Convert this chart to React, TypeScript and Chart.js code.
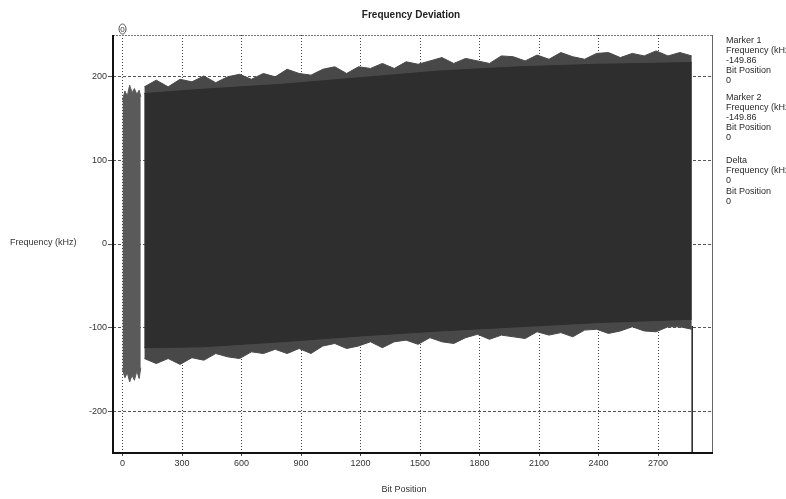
import { useEffect, useRef } from "react";
import { Chart, registerables } from "chart.js";
Chart.register(...registerables);

const FONT = "'Liberation Sans', Arial, sans-serif";

// Axis ticks
const xTickValues = [0, 300, 600, 900, 1200, 1500, 1800, 2100, 2400, 2700];
const yTickValues = [-200, -100, 0, 100, 200];

// Early, sparser part of the signal (bit 0 .. ~92)
const earlyBits = [0, 12, 24, 36, 48, 60, 72, 84, 92];
const earlyUpper = [172, 183, 177, 190, 181, 186, 179, 184, 176];
const earlyLower = [-150, -160, -154, -165, -157, -163, -152, -161, -148];

// Outer (spiky) envelope of the dense signal
const mainBits = [
  110, 170, 230, 290, 350, 410, 470, 530, 590, 650, 710, 770, 830, 890, 950, 1010,
  1070, 1130, 1190, 1250, 1310, 1370, 1430, 1490, 1550, 1610, 1670, 1730, 1790, 1850,
  1910, 1970, 2030, 2090, 2150, 2210, 2270, 2330, 2390, 2450, 2510, 2570, 2630, 2690,
  2750, 2810, 2870,
];
const mainUpper = [
  188, 196, 188, 197, 194, 201, 193, 200, 203, 197, 204, 200, 209, 204, 202, 209,
  212, 204, 212, 210, 216, 210, 218, 215, 219, 223, 216, 222, 219, 216, 225, 224,
  219, 226, 221, 229, 224, 221, 228, 229, 223, 228, 225, 231, 225, 229, 225,
];
const mainLower = [
  -137, -143, -137, -144, -136, -139, -131, -135, -137, -129, -131, -126, -131, -125, -131, -122,
  -119, -125, -122, -117, -124, -117, -115, -120, -112, -117, -119, -112, -108, -114, -109, -111,
  -113, -105, -109, -106, -111, -103, -102, -107, -104, -99, -104, -105, -99, -99, -102,
];

// Dense dark core of the signal
const coreBits = [110, 400, 800, 1200, 1600, 2000, 2400, 2870];
const coreUpper = [180, 185, 191, 199, 207, 212, 215, 217];
const coreLower = [-124, -123, -117, -110, -104, -99, -94, -90];

// Final drop of the trace
const tailBits = [2872, 2872];
const tailValues = [-98, -250];

const markerBit = 0;

const panelLines = [
  { text: "Marker 1", y: 41 },
  { text: "Frequency (kHz", y: 51 },
  { text: "-149.86", y: 61 },
  { text: "Bit Position", y: 71 },
  { text: "0", y: 81 },
  { text: "Marker 2", y: 98 },
  { text: "Frequency (kHz", y: 108 },
  { text: "-149.86", y: 118 },
  { text: "Bit Position", y: 128 },
  { text: "0", y: 138 },
  { text: "Delta", y: 161 },
  { text: "Frequency (kHz", y: 171 },
  { text: "0", y: 181 },
  { text: "Bit Position", y: 192 },
  { text: "0", y: 202 },
];

const pts = (xs: number[], ys: number[]) => xs.map((x, i) => ({ x, y: ys[i] }));

const decorPlugin = {
  id: "decor",
  afterDraw(chart: any) {
    const ctx: CanvasRenderingContext2D = chart.ctx;
    const { left, right, top, bottom } = chart.chartArea;
    ctx.save();
    // frame
    ctx.setLineDash([2, 1]);
    ctx.strokeStyle = "#777";
    ctx.lineWidth = 1;
    ctx.beginPath();
    ctx.moveTo(left, top + 0.5);
    ctx.lineTo(right, top + 0.5);
    ctx.stroke();
    ctx.setLineDash([]);
    ctx.strokeStyle = "#666";
    ctx.beginPath();
    ctx.moveTo(right - 0.5, top);
    ctx.lineTo(right - 0.5, bottom);
    ctx.stroke();
    ctx.strokeStyle = "#111";
    ctx.lineWidth = 2;
    ctx.beginPath();
    ctx.moveTo(left, top);
    ctx.lineTo(left, bottom);
    ctx.lineTo(right, bottom);
    ctx.stroke();

    // title
    ctx.fillStyle = "#222";
    ctx.textBaseline = "middle";
    ctx.textAlign = "center";
    ctx.font = `bold 10px ${FONT}`;
    ctx.fillText("Frequency Deviation", 411, 15);

    ctx.font = `9px ${FONT}`;
    ctx.fillStyle = "#333";
    ctx.fillText("Bit Position", 404, 490);
    ctx.textAlign = "left";
    ctx.fillText("Frequency (kHz)", 10, 243);

    // right panel
    ctx.fillStyle = "#2a2a2a";
    panelLines.forEach((l) => ctx.fillText(l.text, 726, l.y));

    // marker indicator
    const mx = chart.scales.x.getPixelForValue(markerBit);
    ctx.strokeStyle = "#555";
    ctx.lineWidth = 1;
    ctx.beginPath();
    ctx.ellipse(mx, 29, 3.5, 5, 0, 0, Math.PI * 2);
    ctx.stroke();
    ctx.textAlign = "center";
    ctx.font = `8px ${FONT}`;
    ctx.fillStyle = "#333";
    ctx.fillText("0", mx, 29.5);
    ctx.restore();
  },
};

export default function App() {
  const ref = useRef<HTMLCanvasElement | null>(null);
  useEffect(() => {
    document.body.style.margin = "0";
    const canvas = ref.current!;
    const core = "rgb(46,46,46)";
    const fringe = "rgb(72,72,72)";
    const early = "rgb(90,90,90)";
    const chart = new Chart(canvas, {
      type: "line",
      data: {
        datasets: [
          {
            data: pts(coreBits, coreUpper),
            borderColor: core,
            borderWidth: 1,
            backgroundColor: core,
            fill: 1,
            pointRadius: 0,
          },
          {
            data: pts(coreBits, coreLower),
            borderColor: core,
            borderWidth: 1,
            fill: false,
            pointRadius: 0,
          },
          {
            data: pts(mainBits, mainUpper),
            borderColor: fringe,
            borderWidth: 1,
            backgroundColor: fringe,
            fill: 3,
            pointRadius: 0,
          },
          {
            data: pts(mainBits, mainLower),
            borderColor: fringe,
            borderWidth: 1,
            fill: false,
            pointRadius: 0,
          },
          {
            data: pts(earlyBits, earlyUpper),
            borderColor: early,
            borderWidth: 1,
            backgroundColor: early,
            fill: 5,
            pointRadius: 0,
          },
          {
            data: pts(earlyBits, earlyLower),
            borderColor: early,
            borderWidth: 1,
            fill: false,
            pointRadius: 0,
          },
          {
            data: pts(tailBits, tailValues),
            borderColor: "#222",
            borderWidth: 1.5,
            fill: false,
            pointRadius: 0,
          },
        ],
      },
      options: {
        animation: false,
        responsive: false,
        maintainAspectRatio: false,
        layout: { padding: { left: 83, right: 73, top: 35, bottom: 26 } },
        plugins: {
          legend: { display: false },
          tooltip: { enabled: false },
          title: { display: false },
        },
        elements: { line: { tension: 0 } },
        scales: {
          x: {
            type: "linear",
            min: -48,
            max: 2977,
            afterBuildTicks: (s: any) => {
              s.ticks = xTickValues.map((value) => ({ value }));
            },
            ticks: {
              autoSkip: false,
              maxRotation: 0,
              padding: 2,
              color: "#333",
              font: { family: FONT, size: 9 },
              callback: (v: any) => String(v),
            },
            grid: { color: "#444", lineWidth: 1, tickLength: 3 },
            border: { display: false, dash: [1, 2] },
            afterFit: (s: any) => {
              s.height = 20;
            },
          },
          y: {
            type: "linear",
            min: -250,
            max: 250,
            afterBuildTicks: (s: any) => {
              s.ticks = yTickValues.map((value) => ({ value }));
            },
            ticks: {
              padding: 1,
              color: "#333",
              font: { family: FONT, size: 9 },
              callback: (v: any) => String(v),
            },
            grid: { color: "#555", lineWidth: 1, tickLength: 5 },
            border: { display: false, dash: [3, 2] },
            afterFit: (s: any) => {
              s.width = 30;
            },
          },
        },
      },
      plugins: [decorPlugin],
    });
    return () => chart.destroy();
  }, []);
  return (
    <div style={{ position: "absolute", left: 0, top: 0, width: 786, height: 499 }}>
      <canvas ref={ref} width={786} height={499} style={{ display: "block" }} />
    </div>
  );
}
